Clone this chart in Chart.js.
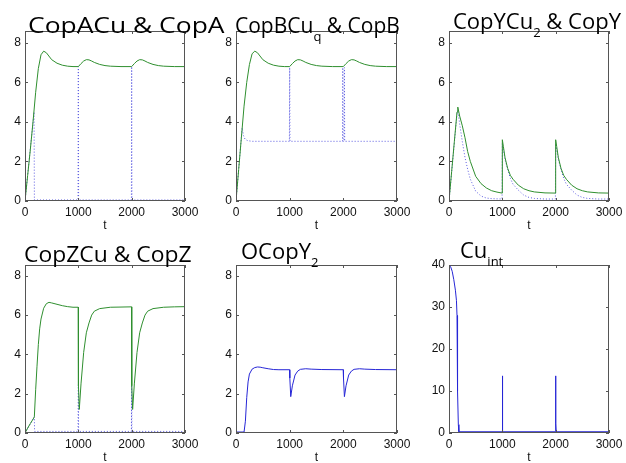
<!DOCTYPE html>
<html>
<head>
<meta charset="utf-8">
<script src="https://cdn.jsdelivr.net/npm/chart.js@4.4.0/dist/chart.umd.min.js"></script>
<style>
  body { margin: 0; background: #fff; width: 626px; height: 463px; overflow: hidden; position: relative; font-family: "Open Sans", sans-serif; }
  canvas { position: absolute; }
  .ttl { position: absolute; font-size: 22px; line-height: 22px; color: #000; white-space: nowrap; z-index: 2; transform-origin: 0 0; }
  .ttl sub { font-size: 13px; vertical-align: baseline; position: relative; top: 8px; }
</style>
</head>
<body>
<canvas id="c1"></canvas><canvas id="c2"></canvas><canvas id="c3"></canvas>
<canvas id="c4"></canvas><canvas id="c5"></canvas><canvas id="c6"></canvas>
<div class="ttl" style="left:28px;top:13px;transform:scaleX(1.2)">CopACu &amp; CopA</div>
<div class="ttl" style="left:235px;top:14px;font-size:21px">CopBCu<sub>q</sub> &amp; CopB</div>
<div class="ttl" style="left:453px;top:9px">CopYCu<sub>2</sub> &amp; CopY</div>
<div class="ttl" style="left:24px;top:242px;transform:scaleX(1.04)">CopZCu &amp; CopZ</div>
<div class="ttl" style="left:241px;top:239px">OCopY<sub>2</sub></div>
<div class="ttl" style="left:460px;top:238px">Cu<sub>int</sub></div>
<script>
// time axis
const xMax = 3000;
const xStep = 1000;

// CopACu (green) and CopA (dotted)
const tCopACu = [0, 50, 100, 150, 200, 250, 300, 350, 400, 500, 600, 700, 800, 900, 1000, 1050, 1100, 1150, 1200, 1250, 1300, 1400, 1500, 1600, 1800, 2000, 2050, 2100, 2150, 2200, 2250, 2300, 2400, 2500, 2600, 2800, 3000];
const copACu  = [0, 1.3, 2.6, 4.0, 5.5, 6.7, 7.4, 7.58, 7.5, 7.15, 6.97, 6.87, 6.82, 6.8, 6.8, 6.95, 7.08, 7.15, 7.14, 7.08, 7.01, 6.91, 6.85, 6.82, 6.8, 6.8, 6.95, 7.08, 7.15, 7.14, 7.08, 7.01, 6.91, 6.85, 6.82, 6.8, 6.8];
const tCopA = [0, 170, 176, 995, 1000, 1005, 1995, 2000, 2005, 3000];
const copA  = [0, 4.5, 0.05, 0.05, 6.8, 0.05, 0.05, 6.8, 0.05, 0.05];

// CopBCu_q (green) and CopB (dotted)
const tCopBCu = [0, 50, 100, 150, 200, 250, 300, 350, 400, 500, 600, 700, 800, 900, 1000, 1050, 1100, 1150, 1200, 1250, 1300, 1400, 1500, 1600, 1800, 2000, 2050, 2100, 2150, 2200, 2250, 2300, 2400, 2500, 2600, 2800, 3000];
const copBCu  = [0, 1.6, 3.2, 4.8, 6.0, 6.9, 7.45, 7.58, 7.5, 7.15, 6.97, 6.87, 6.82, 6.8, 6.8, 6.95, 7.08, 7.15, 7.14, 7.08, 7.01, 6.91, 6.85, 6.82, 6.8, 6.8, 6.95, 7.08, 7.15, 7.14, 7.08, 7.01, 6.91, 6.85, 6.82, 6.8, 6.8];
const tCopB = [0, 115, 140, 170, 220, 300, 995, 1000, 1005, 1985, 1990, 1995, 2015, 2020, 2025, 3000];
const copB  = [0, 3.7, 3.3, 3.12, 3.05, 3.02, 3.02, 6.75, 3.02, 3.02, 6.75, 3.02, 3.02, 6.75, 3.02, 3.02];

// CopYCu_2 (green) and CopY (dotted)
const tCopYCu2 = [0, 50, 100, 150, 165, 200, 250, 300, 350, 400, 500, 600, 700, 800, 900, 995, 1000, 1020, 1050, 1100, 1150, 1200, 1300, 1400, 1500, 1600, 1800, 1995, 2000, 2020, 2050, 2100, 2150, 2200, 2300, 2400, 2500, 2600, 2800, 3000];
const copYCu2  = [0, 1.5, 3.0, 4.5, 4.75, 4.3, 3.8, 3.2, 2.5, 2.0, 1.25, 0.88, 0.66, 0.52, 0.45, 0.4, 3.1, 2.75, 2.2, 1.65, 1.3, 1.1, 0.8, 0.62, 0.52, 0.46, 0.41, 0.4, 3.1, 2.75, 2.2, 1.65, 1.3, 1.1, 0.8, 0.62, 0.52, 0.46, 0.41, 0.4];
const tCopY = [0, 150, 165, 200, 250, 300, 350, 400, 500, 600, 700, 800, 995, 1000, 1050, 1100, 1150, 1200, 1300, 1400, 1500, 1600, 1800, 1995, 2000, 2050, 2100, 2150, 2200, 2300, 2400, 2500, 2600, 2800, 3000];
const copY  = [0, 4.4, 4.6, 3.9, 3.0, 2.2, 1.6, 1.1, 0.5, 0.25, 0.15, 0.12, 0.1, 2.9, 2.1, 1.6, 1.15, 0.85, 0.55, 0.3, 0.18, 0.13, 0.1, 0.1, 2.9, 2.1, 1.6, 1.15, 0.85, 0.55, 0.3, 0.18, 0.13, 0.1, 0.1];

// CopZCu (green) and CopZ (dotted)
const tCopZCu = [0, 50, 100, 150, 175, 200, 225, 250, 275, 300, 350, 400, 450, 500, 600, 700, 800, 900, 998, 1002, 1018, 1050, 1100, 1150, 1200, 1250, 1300, 1400, 1600, 1800, 1998, 2002, 2018, 2050, 2100, 2150, 2200, 2250, 2300, 2400, 2600, 2800, 3000];
const copZCu  = [0, 0.25, 0.48, 0.7, 0.82, 2.2, 3.4, 4.5, 5.3, 5.8, 6.35, 6.58, 6.65, 6.62, 6.55, 6.48, 6.43, 6.4, 6.4, 2.4, 1.2, 2.5, 4.1, 5.1, 5.6, 6.0, 6.2, 6.33, 6.4, 6.41, 6.42, 2.4, 1.2, 2.5, 4.1, 5.1, 5.6, 6.0, 6.2, 6.33, 6.4, 6.42, 6.43];
const tCopZ = [0, 175, 180, 995, 1000, 1005, 1995, 2000, 2005, 3000];
const copZ  = [0, 0.82, 0.08, 0.08, 2.45, 0.08, 0.08, 2.4, 0.08, 0.08];

// OCopY_2
const tOCopY2 = [0, 150, 175, 200, 225, 250, 300, 350, 400, 450, 500, 600, 700, 800, 998, 1003, 1020, 1050, 1100, 1150, 1200, 1300, 1400, 1600, 1998, 2003, 2020, 2050, 2100, 2150, 2200, 2300, 2400, 2600, 3000];
const oCopY2  = [0.05, 0.05, 0.6, 1.8, 2.6, 3.0, 3.25, 3.33, 3.36, 3.35, 3.32, 3.27, 3.23, 3.22, 3.22, 2.8, 1.85, 2.4, 2.95, 3.15, 3.24, 3.27, 3.25, 3.23, 3.22, 2.8, 1.85, 2.4, 2.95, 3.15, 3.24, 3.27, 3.25, 3.23, 3.22];

// Cu_int
const tCuInt = [0, 3, 30, 60, 90, 120, 140, 150, 155, 165, 175, 185, 998, 1000, 1002, 1010, 1998, 2000, 2002, 2010, 3000];
const cuInt  = [0, 40, 39.6, 38.5, 36.5, 34, 31.5, 28, 20, 10, 2, 0.3, 0.3, 13.6, 3.8, 0.3, 0.3, 13.6, 2.2, 0.3, 0.3];

const GREEN = '#2f8f2f';
const BLUE = '#2626d6';
const BLUE_DOT = '#5a5ae0';

function pts(t, v) { return t.map((x, i) => ({ x: x, y: v[i] })); }

function solid(t, v, color) {
  return { data: pts(t, v), borderColor: color, borderWidth: 1, pointRadius: 0, tension: 0, fill: false };
}
function dotted(t, v, color) {
  return { data: pts(t, v), borderColor: color, borderWidth: 1, borderDash: [1, 2], pointRadius: 0, tension: 0, fill: false };
}

// box around the plot area with small inward ticks, like the original figure
const boxPlugin = {
  id: 'box',
  afterDraw(chart) {
    const { ctx, chartArea: a, scales } = chart;
    ctx.save();
    ctx.strokeStyle = '#555';
    ctx.lineWidth = 1;
    ctx.strokeRect(a.left + 0.5, a.top + 0.5, a.right - a.left - 1, a.bottom - a.top - 1);
    ctx.beginPath();
    scales.x.ticks.forEach(tk => {
      const px = Math.round(scales.x.getPixelForValue(tk.value)) + 0.5;
      ctx.moveTo(px, a.bottom); ctx.lineTo(px, a.bottom - 3);
      ctx.moveTo(px, a.top); ctx.lineTo(px, a.top + 3);
    });
    scales.y.ticks.forEach(tk => {
      const py = Math.round(scales.y.getPixelForValue(tk.value)) + 0.5;
      ctx.moveTo(a.left, py); ctx.lineTo(a.left + 3, py);
      ctx.moveTo(a.right, py); ctx.lineTo(a.right - 3, py);
    });
    ctx.stroke();
    ctx.restore();
  }
};

const YW = 35, PADT = 12, PADR = 20, XH = 32;

function makePanel(id, box, datasets, yMax, yStep) {
  const cv = document.getElementById(id);
  const w = box.R - box.L + YW + PADR;
  const h = box.B - box.T + PADT + XH;
  cv.width = w; cv.height = h;
  cv.style.left = (box.L - YW) + 'px';
  cv.style.top = (box.T - PADT) + 'px';
  const tickFont = { family: '"Liberation Sans", Arial, sans-serif', size: 12 };
  return new Chart(cv, {
    type: 'line',
    data: { datasets: datasets },
    options: {
      responsive: false,
      animation: false,
      layout: { padding: { left: 0, top: PADT, right: PADR, bottom: 0 } },
      plugins: { legend: { display: false }, tooltip: { enabled: false } },
      scales: {
        x: {
          type: 'linear', min: 0, max: xMax,
          grid: { display: false, drawTicks: false },
          border: { display: false },
          ticks: { stepSize: xStep, includeBounds: false, font: tickFont, color: '#111', padding: 4, maxRotation: 0,
                   callback: v => String(v) },
          title: { display: true, text: 't', font: tickFont, color: '#111', padding: { top: 0, bottom: 0 } },
          afterFit(s) { s.height = XH; }
        },
        y: {
          min: 0, max: yMax,
          grid: { display: false, drawTicks: false },
          border: { display: false },
          ticks: { stepSize: yStep, includeBounds: false, font: tickFont, color: '#111', padding: 4,
                   callback: v => String(v) },
          afterFit(s) { s.width = YW; }
        }
      }
    },
    plugins: [boxPlugin]
  });
}

const rowTop = { T: 31, B: 201 };
const rowBot = { T: 265, B: 433 };

makePanel('c1', { L: 25, R: 185, ...rowTop }, [solid(tCopACu, copACu, GREEN), dotted(tCopA, copA, BLUE_DOT)], 8.6, 2);
makePanel('c2', { L: 236, R: 397, ...rowTop }, [solid(tCopBCu, copBCu, GREEN), dotted(tCopB, copB, BLUE_DOT)], 8.6, 2);
makePanel('c3', { L: 449, R: 609, ...rowTop }, [solid(tCopYCu2, copYCu2, GREEN), dotted(tCopY, copY, BLUE_DOT)], 8.6, 2);
makePanel('c4', { L: 25, R: 185, ...rowBot }, [solid(tCopZCu, copZCu, GREEN), dotted(tCopZ, copZ, BLUE_DOT)], 8.55, 2);
makePanel('c5', { L: 236, R: 397, ...rowBot }, [solid(tOCopY2, oCopY2, BLUE)], 8.55, 2);
makePanel('c6', { L: 449, R: 609, ...rowBot }, [solid(tCuInt, cuInt, BLUE)], 40, 10);
</script>
</body>
</html>
